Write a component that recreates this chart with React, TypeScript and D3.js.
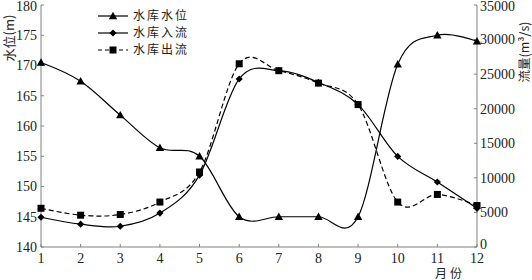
import React from "react";
import * as d3 from "d3";

const months = [1, 2, 3, 4, 5, 6, 7, 8, 9, 10, 11, 12];
const waterLevel = [170.5, 167.4, 161.8, 156.4, 155.0, 145.0, 145.0, 145.0, 145.0, 170.2, 175.0, 174.0];
const inflow = [4300, 3300, 3000, 4900, 10400, 24300, 25500, 23800, 20600, 13100, 9400, 5600];
const outflow = [5600, 4600, 4700, 6500, 10850, 26500, 25500, 23700, 20600, 6500, 7600, 6000];
const leftTicks = [140, 145, 150, 155, 160, 165, 170, 175, 180];
const rightTicks = [0, 5000, 10000, 15000, 20000, 25000, 30000, 35000];
const seriesNames = ["水库水位", "水库入流", "水库出流"];

const W = 532, H = 280;
const L = 41, R = 477, T = 5, B = 247;
const FONT = "'Liberation Serif', 'DejaVu Serif', 'Noto Sans CJK SC', serif";
const CJK = "'Noto Sans CJK SC', 'Liberation Serif', serif";
const AXIS = "#808080";

function Marker({ type, x, y }: { type: string; x: number; y: number }) {
  if (type === "tri") {
    const s = 4.2;
    return <path d={`M${x},${y - s}L${x + s},${y + s * 0.75}L${x - s},${y + s * 0.75}Z`} fill="#000" />;
  }
  if (type === "dia") {
    const s = 3.6;
    return <path d={`M${x},${y - s}L${x + s},${y}L${x},${y + s}L${x - s},${y}Z`} fill="#000" />;
  }
  const s = 3.5;
  return <rect x={x - s} y={y - s} width={2 * s} height={2 * s} fill="#000" />;
}

export default function App() {
  const x = d3.scaleLinear().domain([1, 12]).range([L, R]);
  const yL = d3.scaleLinear().domain([140, 180]).range([B, T]);
  const yR = d3.scaleLinear().domain([0, 35000]).range([B, T]);
  const curve = d3.curveCatmullRom.alpha(0);

  const lineL = d3.line<number>().x((_, i) => x(months[i])).y((d) => yL(d)).curve(curve);
  const lineR = d3.line<number>().x((_, i) => x(months[i])).y((d) => yR(d)).curve(curve);

  const series = [
    { data: waterLevel, path: lineL(waterLevel)!, y: yL, marker: "tri", dash: undefined },
    { data: inflow, path: lineR(inflow)!, y: yR, marker: "dia", dash: undefined },
    { data: outflow, path: lineR(outflow)!, y: yR, marker: "sq", dash: "5,3" },
  ];

  return (
    <svg width={W} height={H} style={{ position: "absolute", left: 0, top: 0, background: "#fff" }}>
      {/* axes */}
      <line x1={L} y1={T} x2={L} y2={B} stroke={AXIS} strokeWidth={1} />
      <line x1={R} y1={T} x2={R} y2={B} stroke={AXIS} strokeWidth={1} />
      <line x1={L} y1={B} x2={R} y2={B} stroke={AXIS} strokeWidth={1} />
      {leftTicks.map((t) => (
        <g key={"l" + t}>
          <line x1={L} x2={L + 3} y1={yL(t)} y2={yL(t)} stroke={AXIS} />
          <text x={L - 4} y={yL(t) + (t === 180 ? 1 : 0)} dy="0.35em" textAnchor="end" fontFamily={FONT} fontSize={14} fill="#222">
            {t}
          </text>
        </g>
      ))}
      {rightTicks.map((t) => (
        <g key={"r" + t}>
          <line x1={R - 3} x2={R} y1={yR(t)} y2={yR(t)} stroke={AXIS} />
          <text x={R + 3} y={yR(t) - (t === 0 ? 3 : 0) + (t === 35000 ? 1 : 0)} dy="0.35em" textAnchor="start" fontFamily={FONT} fontSize={14} fill="#222">
            {t}
          </text>
        </g>
      ))}
      {months.map((m) => (
        <g key={"m" + m}>
          <line x1={x(m)} x2={x(m)} y1={B} y2={B - 3} stroke={AXIS} />
          <text x={x(m)} y={B + 16} textAnchor="middle" fontFamily={FONT} fontSize={14} fill="#222">
            {m}
          </text>
        </g>
      ))}
      <text x={450} y={278} textAnchor="middle" fontFamily={CJK} fontSize={12} letterSpacing={3} fill="#222">
        月份
      </text>
      <text transform="translate(14,38) rotate(-90)" textAnchor="middle" fontFamily={CJK} fontSize={13} fill="#222">
        水位(m)
      </text>
      <text transform="translate(529,52) rotate(-90)" textAnchor="middle" fontFamily={CJK} fontSize={12.5} fill="#222">
        流量(m³/s)
      </text>

      {/* series */}
      {series.map((s, si) => (
        <g key={"s" + si}>
          <path d={s.path} fill="none" stroke="#000" strokeWidth={1.2} strokeDasharray={s.dash} />
          {s.data.map((v, i) => (
            <Marker key={i} type={s.marker} x={x(months[i])} y={s.y(v)} />
          ))}
        </g>
      ))}

      {/* legend */}
      {series.map((s, si) => {
        const ly = 16 + si * 17;
        return (
          <g key={"lg" + si}>
            <line x1={98} x2={128} y1={ly} y2={ly} stroke="#000" strokeWidth={1.2} strokeDasharray={s.dash ? "4,3" : undefined} />
            <Marker type={s.marker} x={113} y={ly} />
            <text x={133} y={ly} dy="0.35em" fontFamily={CJK} fontSize={12} letterSpacing={2} fill="#222">
              {seriesNames[si]}
            </text>
          </g>
        );
      })}
    </svg>
  );
}
